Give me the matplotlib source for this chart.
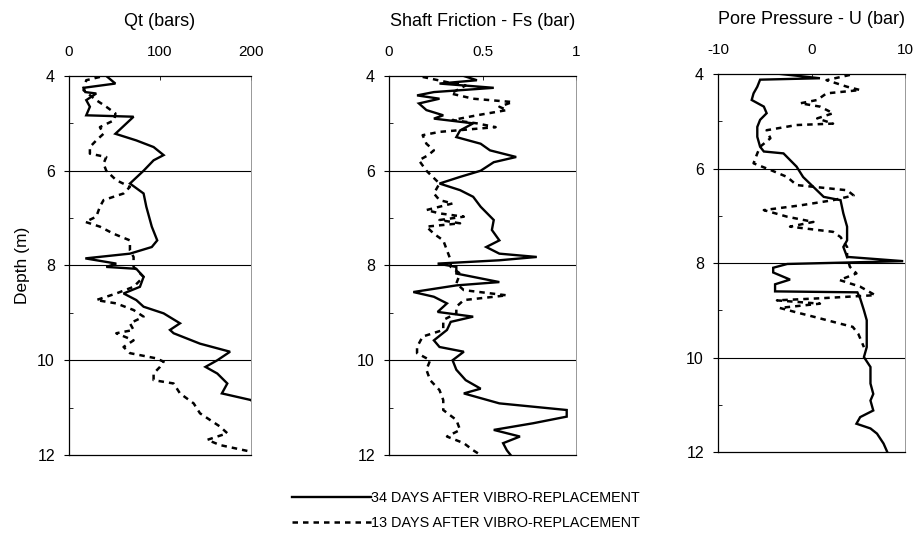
import matplotlib.pyplot as plt
from matplotlib.ticker import MultipleLocator

plt.rcParams['font.family'] = ['Liberation Sans', 'DejaVu Sans']

# --- Qt (bars) ---
qt34_depth = [4.0, 4.16, 4.25, 4.34, 4.37, 4.51, 4.65, 4.83, 4.86, 5.22, 5.36, 5.5, 5.67,
              5.78, 6.0, 6.27, 6.48, 6.76, 7.18, 7.47, 7.61, 7.75, 7.85, 7.96, 8.03, 8.07,
              8.24, 8.45, 8.59, 8.73, 8.87, 9.01, 9.22, 9.36, 9.43, 9.65, 9.82, 10.0, 10.14,
              10.28, 10.49, 10.7, 10.84, 11.2, 12.0]
qt34 = [41, 51, 16, 18, 30, 19, 23, 19, 71, 51, 74, 93, 104,
        93, 82, 67, 82, 85, 91, 97, 91, 67, 18, 52, 41, 74,
        82, 78, 60, 74, 82, 104, 122, 111, 115, 144, 177, 163, 150,
        163, 174, 168, 200, 215, 240]

qt13_depth = [4.02, 4.09, 4.3, 4.51, 4.65, 4.79, 4.93, 5.08, 5.22, 5.36, 5.5, 5.64, 5.71,
              5.85, 6.0, 6.2, 6.34, 6.48, 6.62, 6.76, 6.97, 7.08, 7.18, 7.33, 7.47, 7.68,
              7.82, 8.03, 8.24, 8.45, 8.59, 8.73, 8.8, 8.94, 9.08, 9.22, 9.36, 9.43, 9.58,
              9.72, 9.85, 9.96, 10.03, 10.14, 10.28, 10.42, 10.49, 10.7, 10.91, 11.12, 11.26,
              11.4, 11.54, 11.68, 11.79, 11.93]
qt13 = [34, 19, 16, 30, 41, 51, 50, 34, 38, 30, 23, 23, 41,
        38, 41, 52, 67, 60, 38, 34, 30, 18, 34, 49, 67, 67,
        71, 71, 82, 71, 52, 30, 52, 71, 82, 67, 71, 52, 71,
        60, 67, 96, 104, 100, 93, 93, 115, 122, 137, 144, 155,
        166, 174, 152, 166, 200]

# --- Shaft friction Fs (bar) ---
fs34_depth = [4.0, 4.09, 4.16, 4.25, 4.34, 4.41, 4.48, 4.58, 4.72, 4.83, 4.9, 5.0, 5.15,
              5.29, 5.43, 5.57, 5.71, 5.82, 6.0, 6.13, 6.27, 6.41, 6.55, 6.76, 7.04, 7.25,
              7.47, 7.61, 7.75, 7.82, 7.89, 7.96, 8.03, 8.17, 8.35, 8.42, 8.56, 8.66, 8.8,
              8.98, 9.08, 9.19, 9.36, 9.58, 9.72, 9.82, 10.0, 10.2, 10.42, 10.6, 10.7,
              10.91, 11.05, 11.19, 11.33, 11.47, 11.61, 11.75, 11.9, 12.0]
fs34 = [0.40, 0.47, 0.27, 0.56, 0.24, 0.15, 0.27, 0.16, 0.20, 0.29, 0.24, 0.45, 0.38,
        0.36, 0.49, 0.54, 0.68, 0.56, 0.49, 0.38, 0.27, 0.38, 0.45, 0.49, 0.56, 0.55,
        0.59, 0.52, 0.59, 0.79, 0.59, 0.26, 0.36, 0.36, 0.59, 0.36, 0.13, 0.24, 0.31,
        0.26, 0.45, 0.33, 0.31, 0.24, 0.27, 0.40, 0.34, 0.36, 0.41, 0.49, 0.40,
        0.59, 0.95, 0.95, 0.77, 0.56, 0.70, 0.61, 0.63, 0.65]

fs13_depth = [4.02, 4.13, 4.2, 4.37, 4.48, 4.55, 4.65, 4.72, 4.83, 4.93, 5.0, 5.08, 5.11,
              5.18, 5.25, 5.43, 5.57, 5.67, 5.78, 6.0, 6.27, 6.48, 6.62, 6.69, 6.83, 6.9,
              6.97, 7.04, 7.11, 7.18, 7.33, 7.47, 7.68, 7.89, 8.03, 8.17, 8.38, 8.52, 8.63,
              8.73, 8.87, 9.01, 9.15, 9.36, 9.5, 9.72, 9.85, 10.0, 10.2, 10.42, 10.63,
              10.84, 11.05, 11.26, 11.47, 11.61, 11.75, 11.9, 12.0]
fs13 = [0.18, 0.31, 0.41, 0.33, 0.45, 0.66, 0.59, 0.63, 0.47, 0.34, 0.47, 0.57, 0.48,
        0.27, 0.18, 0.20, 0.24, 0.21, 0.16, 0.20, 0.27, 0.24, 0.27, 0.34, 0.20, 0.27,
        0.40, 0.27, 0.38, 0.20, 0.24, 0.29, 0.31, 0.33, 0.33, 0.38, 0.36, 0.40, 0.63,
        0.40, 0.36, 0.36, 0.29, 0.29, 0.18, 0.15, 0.15, 0.22, 0.20, 0.22, 0.27,
        0.29, 0.29, 0.36, 0.38, 0.31, 0.40, 0.45, 0.49]

# --- Pore pressure U (bar) ---
u34_depth = [4.0, 4.09, 4.12, 4.27, 4.41, 4.55, 4.69, 4.83, 4.97, 5.12, 5.33, 5.54, 5.64,
             5.68, 5.82, 5.96, 6.18, 6.39, 6.6, 6.67, 6.95, 7.23, 7.52, 7.66, 7.87, 7.96,
             8.02, 8.1, 8.2, 8.35, 8.45, 8.6, 8.62, 8.75, 9.0, 9.21, 9.49, 9.78, 9.99,
             10.2, 10.55, 10.77, 10.91, 11.12, 11.26, 11.4, 11.5, 11.61, 11.82, 12.0]
u34 = [-3.3, 0.9, -5.5, -5.8, -6.2, -6.4, -5.1, -4.8, -5.5, -5.8, -5.8, -5.5, -5.1,
       -3.0, -2.3, -1.6, -0.9, 0.2, 1.3, 3.1, 3.4, 3.8, 3.8, 3.4, 3.8, 9.8,
       -2.6, -4.1, -4.1, -2.3, -3.9, -3.9, 4.9, 5.2, 5.6, 5.9, 5.9, 5.9, 5.6,
       6.3, 6.3, 6.6, 6.3, 6.6, 5.2, 4.8, 6.3, 7.0, 7.7, 8.1]

u13_depth = [4.02, 4.13, 4.27, 4.34, 4.41, 4.55, 4.62, 4.69, 4.83, 4.94, 5.05, 5.08, 5.19,
             5.36, 5.54, 5.68, 5.89, 6.03, 6.18, 6.35, 6.46, 6.57, 6.67, 6.78, 6.88, 7.02,
             7.13, 7.23, 7.34, 7.45, 7.66, 7.87, 8.08, 8.22, 8.36, 8.5, 8.68, 8.74, 8.79,
             8.86, 8.95, 9.05, 9.15, 9.28, 9.35, 9.5, 9.78]
u13 = [4.1, 1.6, 3.8, 5.2, 1.6, 0.6, -1.2, 0.9, 2.3, 0.6, 2.3, -1.6, -4.8,
       -4.4, -5.5, -5.8, -6.2, -4.4, -2.6, -1.6, 3.8, 4.5, 2.3, -1.2, -5.1, -2.6,
       0.2, -2.3, 2.3, 3.1, 3.8, 3.8, 4.1, 4.8, 3.0, 5.2, 6.8, 1.5, -3.7,
       0.9, -3.4, -1.5, 0.5, 3.0, 4.4, 5.0, 5.6]

titles = ['Qt (bars)', 'Shaft Friction - Fs (bar)', 'Pore Pressure - U (bar)']
xlims = [(0, 200), (0, 1), (-10, 10)]
xticks = [[0, 100, 200], [0, 0.5, 1], [-10, 0, 10]]
xticklabels = [['0', '100', '200'], ['0', '0.5', '1'], ['-10', '0', '10']]
legend_labels = ['34 DAYS AFTER VIBRO-REPLACEMENT', '13 DAYS AFTER VIBRO-REPLACEMENT']

series = [
    (qt34_depth, qt34, qt13_depth, qt13),
    (fs34_depth, fs34, fs13_depth, fs13),
    (u34_depth, u34, u13_depth, u13),
]

fig = plt.figure(figsize=(9.17, 5.35), dpi=100)
rects = [[0.0752, 0.1495, 0.1985, 0.7085],
         [0.4242, 0.1495, 0.2040, 0.7085],
         [0.7830, 0.1550, 0.2040, 0.7067]]

handles = None
for i, (r, (d34, v34, d13, v13)) in enumerate(zip(rects, series)):
    ax = fig.add_axes(r)
    l1, = ax.plot(v34, d34, color='black', lw=1.7, solid_joinstyle='miter')
    l2, = ax.plot(v13, d13, color='black', lw=1.8, linestyle=(0, (2.2, 2.0)))
    if handles is None:
        handles = [l1, l2]
    for dd in [6, 8, 10]:
        ax.axhline(dd, color='black', lw=0.8)
    ax.set_xlim(*xlims[i])
    ax.set_ylim(12, 4)
    ax.xaxis.tick_top()
    ax.xaxis.set_label_position('top')
    ax.set_xticks(xticks[i])
    ax.set_xticklabels(xticklabels[i])
    ax.set_yticks([4, 6, 8, 10, 12])
    ax.yaxis.set_minor_locator(MultipleLocator(1))
    ax.tick_params(axis='x', direction='in', length=3, width=0.6, labelsize=11, pad=12)
    ax.tick_params(axis='y', which='major', direction='out', length=3.6, width=0.8,
                   labelsize=11.5, pad=6.5)
    ax.tick_params(axis='y', which='minor', direction='in', length=3, width=0.6)
    for s in ['top', 'bottom', 'left']:
        ax.spines[s].set_linewidth(0.9)
    ax.spines['right'].set_color('#888888')
    ax.spines['right'].set_linewidth(0.6)
    ax.set_title(titles[i], fontsize=13, pad=36)
    if i == 0:
        ax.set_ylabel('Depth (m)', fontsize=12.5)
        ax.yaxis.set_label_coords(-0.215, 0.5)

leg = fig.legend(handles, legend_labels, loc='center', bbox_to_anchor=(0.508, 0.046),
                 frameon=False, fontsize=10.4, handlelength=5.5, handletextpad=0.0,
                 labelspacing=0.75)

fig.savefig('out.png', dpi=100)
